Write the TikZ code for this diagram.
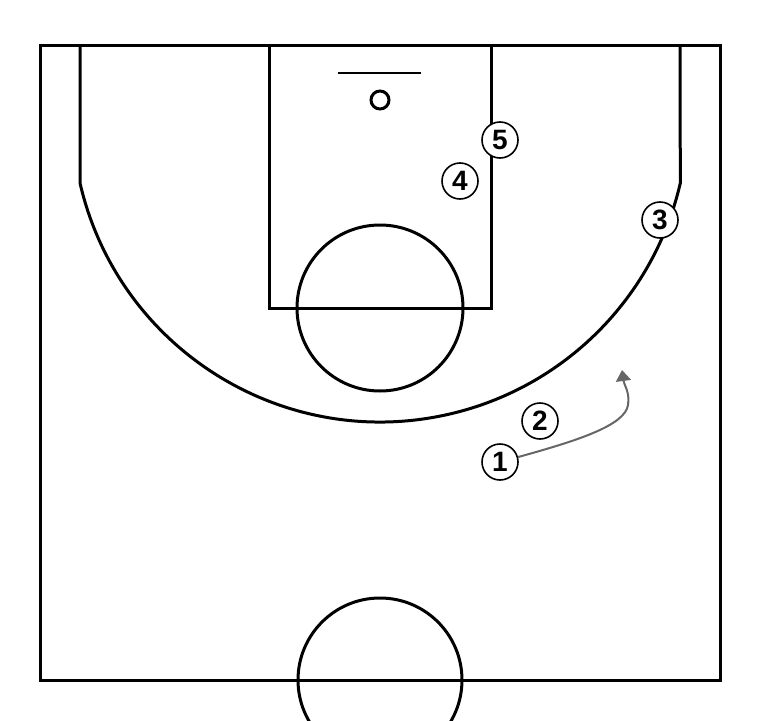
\documentclass[tikz,border=0pt]{standalone}
\usepackage{fontspec}
\setmainfont{Liberation Sans}
\usetikzlibrary{positioning, arrows.meta}

\begin{document}
\begin{tikzpicture}[x=1pt, y=-1pt,
        court/.style={line width=3pt},
        player/.style={draw, circle, line width=1.6pt, fill=white, minimum size=36pt, inner sep=0pt,
            font=\fontsize{28}{28}\selectfont\bfseries},
        cut/.style={draw=gray!80!black, line width=2pt, {}-{Triangle[length=11pt, width=15pt]}}]
            \useasboundingbox (0,0) rectangle (760,720);
            \clip (0,0) rectangle (760,720);

            % half court
            \draw [court] (40,45) rectangle (720,680);
            \draw [court] (80,45) -- (80,183) arc[start angle=167.05, end angle=12.95, radius=308] -- (680,45);
            \draw [court] (269,45) rectangle (491,308);
            \draw [court] (380,308) circle (83);
            \draw [court] (380,680) circle (82);

            % basket
            \draw [line width=2pt] (338,73) -- (421,73);
            \draw [court] (380,100) circle (9);

            \node [player] (P5) at (500,140) {5};
            \node [player] (P4) at (460,181) {4};
            \node [player] (P3) at (660,220) {3};
            \node [player] (P2) at (540,421) {2};
            \node [player] (P1) at (500,462) {1};

            \coordinate (Spot) at (622,370);
            \draw [cut] (P1) .. controls (580,440) and (625,425) .. (628,405)
                .. controls (630,392) and (624,385) .. (Spot);

        \end{tikzpicture}
\end{document}
